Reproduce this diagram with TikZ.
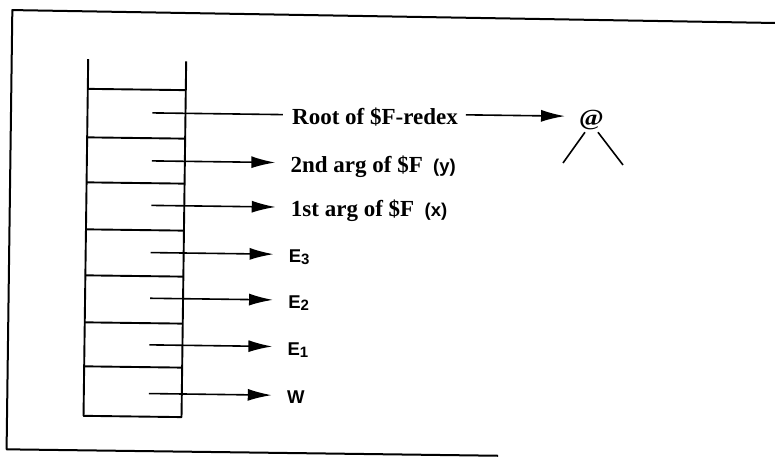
\documentclass[tikz,border=0pt]{standalone}
\usepackage{fontspec}
\setmainfont{Liberation Serif}[BoldFont={Liberation Serif Bold}]
\setsansfont{Liberation Sans}[BoldFont={Liberation Sans Bold}]
\usepackage{tikz}
\usetikzlibrary{arrows.meta}

\begin{document}
\begin{tikzpicture}[x=1pt,y=-1pt]
  \tikzset{frameedge/.style={draw=black,line width=2pt,line join=round}}
  \tikzset{stackedge/.style={draw=black,line width=1.9pt,line join=round}}
  \tikzset{ptredge/.style={draw=black,line width=1.6pt,-{Latex[length=24pt,width=12pt]}}}
  \tikzset{plainedge/.style={draw=black,line width=1.6pt}}
  \tikzset{serifslot/.style={anchor=west,inner xsep=0pt,inner ysep=0pt,text height=19pt,text depth=0pt,font=\bfseries\fontsize{23}{26}\selectfont}}
  \tikzset{sansslot/.style={anchor=west,inner xsep=0pt,inner ysep=0pt,text height=17pt,text depth=0pt,font=\sffamily\bfseries\fontsize{18.5}{20}\selectfont}}
  \tikzset{appnode/.style={inner xsep=-6pt,inner ysep=0pt,text height=16.5pt,text depth=6.5pt,font=\bfseries\fontsize{23}{25}\selectfont}}
  \useasboundingbox (0,0) rectangle (775,457);
  \begin{scope}[rotate around={-0.75:(388,228)}]
  % frame, open on the right
  \draw[frameedge] (790,18.000) -- (9.500,15.000) -- (9.500,454.300) -- (501.000,454.300);
  % the stack
  \draw[stackedge] (86.000,63.000) -- (86.000,419.800) -- (184.000,419.800) -- (184.000,64.000);
  \draw[stackedge] (86.000,92.800) -- (184.000,92.800);
  \draw[stackedge] (86.000,141.300) -- (184.000,141.300);
  \draw[stackedge] (86.000,186.300) -- (184.000,186.300);
  \draw[stackedge] (86.000,233.300) -- (184.000,233.300);
  \draw[stackedge] (86.000,279.300) -- (184.000,279.300);
  \draw[stackedge] (86.000,326.300) -- (184.000,326.300);
  \draw[stackedge] (86.000,370.300) -- (184.000,370.300);
  \coordinate (c1) at (151.000,116.000);
  \coordinate (c2) at (151.000,164.000);
  \coordinate (c3) at (151.000,208.500);
  \coordinate (c4) at (151.000,255.700);
  \coordinate (c5) at (151.000,301.400);
  \coordinate (c6) at (151.000,348.000);
  \coordinate (c7) at (151.000,396.700);
  \node[serifslot] (root) at (290.500,116.000) {Root of \$F-redex};
  \node[serifslot] (arg2) at (289.500,164.000) {2nd arg of \$F\hspace{0.45em}{\sffamily\fontsize{18.5}{20}\selectfont (y)}};
  \node[serifslot] (arg1) at (290.500,208.500) {1st arg of \$F\hspace{0.45em}{\sffamily\fontsize{18.5}{20}\selectfont (x)}};
  \node[sansslot] (e3) at (289.000,255.700) {E\raisebox{-2pt}{\fontsize{15}{16}\selectfont 3}};
  \node[sansslot] (e2) at (289.000,301.400) {E\raisebox{-2pt}{\fontsize{15}{16}\selectfont 2}};
  \node[sansslot] (e1) at (289.000,348.000) {E\raisebox{-2pt}{\fontsize{15}{16}\selectfont 1}};
  \node[sansslot] (w) at (289.000,396.700) {W};
  \node[appnode] (app) at (590.100,117.900) {\scalebox{1.15}[1]{@}};
  \coordinate (lleaf) at (562.200,160.700);
  \coordinate (rleaf) at (622.200,161.900);
  \draw[plainedge,shorten >=9pt] (c1) -- (root.west);
  \draw[ptredge,shorten <=8pt,shorten >=20pt] (root.east) -- (app.west |- root.east);
  \draw[ptredge,shorten >=15pt] (c2) -- (arg2.west);
  \draw[ptredge,shorten >=15pt] (c3) -- (arg1.west);
  \draw[ptredge,shorten >=15pt] (c4) -- (e3.west);
  \draw[ptredge,shorten >=15pt] (c5) -- (e2.west);
  \draw[ptredge,shorten >=15pt] (c6) -- (e1.west);
  \draw[ptredge,shorten >=15pt] (c7) -- (w.west);
  \draw[plainedge] (app.south west) -- (lleaf);
  \draw[plainedge] (app.south east) -- (rleaf);
  \end{scope}
\end{tikzpicture}
\end{document}
